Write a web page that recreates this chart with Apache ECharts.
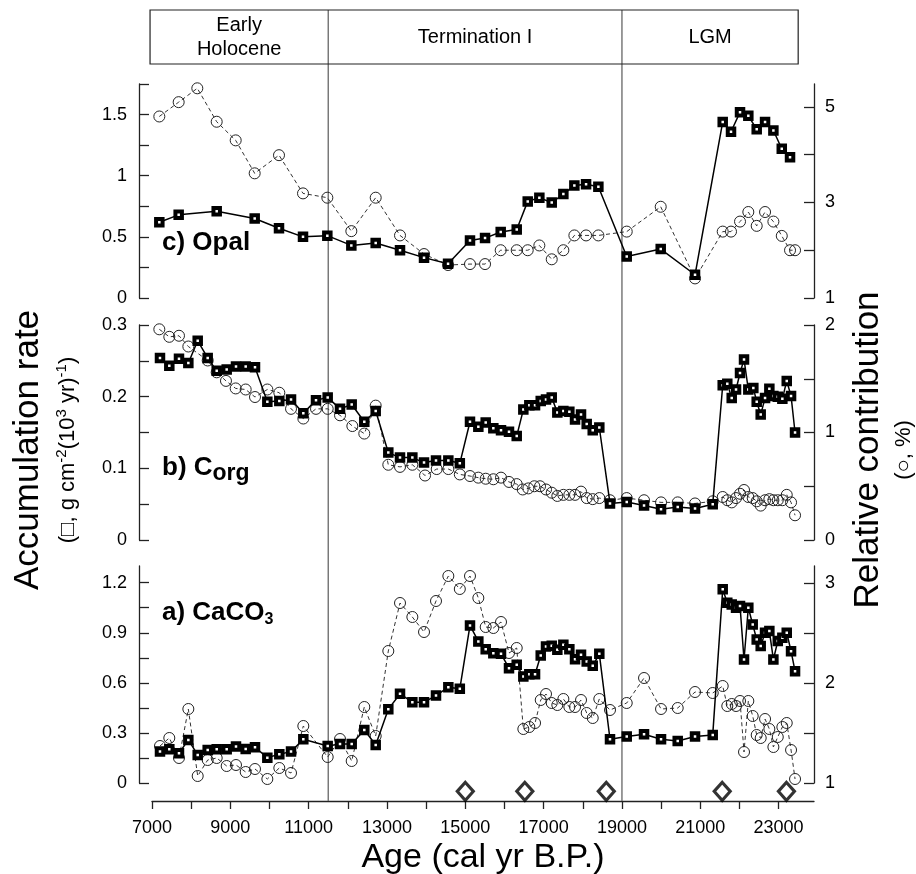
<!DOCTYPE html>
<html>
<head>
<meta charset="utf-8">
<script src="https://cdn.jsdelivr.net/npm/echarts@6/dist/echarts.min.js"></script>
<style>
  html, body { margin: 0; padding: 0; background: #fff; }
  #chart { width: 916px; height: 874px; }
</style>
</head>
<body>
<div id="chart"></div>
<script>
// c) Opal
const opalAgeAR = [7187, 7681, 8652, 9622, 10243, 10856, 11477, 12090, 12712, 13333, 13946, 14560, 15120, 15504, 15904, 16313, 16594, 16891, 17207, 17504, 17785, 18084, 18398, 19122, 19990, 20866, 21573, 21785, 22015, 22227, 22441, 22654, 22867, 23081, 23292];
const opalAR = [0.62, 0.68, 0.71, 0.65, 0.57, 0.50, 0.51, 0.43, 0.45, 0.39, 0.33, 0.28, 0.47, 0.49, 0.54, 0.56, 0.79, 0.82, 0.78, 0.85, 0.92, 0.93, 0.91, 0.34, 0.40, 0.19, 1.44, 1.36, 1.52, 1.49, 1.38, 1.44, 1.37, 1.22, 1.15];
const opalAgePct = [7187, 7681, 8157, 8652, 9137, 9622, 10243, 10856, 11477, 12090, 12712, 13333, 13946, 14560, 15120, 15504, 15904, 16313, 16594, 16891, 17207, 17504, 17785, 18084, 18398, 19122, 19990, 20866, 21573, 21785, 22015, 22227, 22441, 22654, 22867, 23081, 23292, 23420];
const opalPct = [4.80, 5.10, 5.39, 4.69, 4.30, 3.61, 3.99, 3.19, 3.10, 2.40, 3.10, 2.31, 1.92, 1.69, 1.71, 1.71, 2.0, 2.0, 2.0, 2.10, 1.81, 2.0, 2.31, 2.31, 2.31, 2.39, 2.91, 1.41, 2.39, 2.39, 2.60, 2.80, 2.51, 2.80, 2.60, 2.30, 2.0, 2.0];

// b) Corg
const corgAgeAR = [7204, 7442, 7689, 7928, 8167, 8422, 8652, 8907, 9145, 9392, 9630, 9945, 10251, 10550, 10864, 11188, 11486, 11801, 12099, 12421, 12712, 13034, 13333, 13648, 13946, 14252, 14567, 14860, 15120, 15333, 15521, 15716, 15912, 16116, 16313, 16482, 16635, 16781, 16926, 17061, 17207, 17350, 17504, 17657, 17802, 17955, 18100, 18254, 18422, 18695, 19122, 19564, 19998, 20424, 20866, 21318, 21573, 21690, 21803, 21913, 22015, 22117, 22227, 22355, 22441, 22543, 22654, 22764, 22867, 22979, 23096, 23208, 23318, 23420];
const corgAR = [0.254, 0.243, 0.253, 0.247, 0.278, 0.254, 0.236, 0.238, 0.242, 0.242, 0.241, 0.193, 0.194, 0.196, 0.177, 0.195, 0.199, 0.183, 0.189, 0.165, 0.180, 0.122, 0.115, 0.115, 0.108, 0.111, 0.111, 0.107, 0.165, 0.158, 0.164, 0.156, 0.153, 0.151, 0.145, 0.182, 0.188, 0.188, 0.194, 0.196, 0.199, 0.178, 0.180, 0.179, 0.168, 0.175, 0.162, 0.153, 0.157, 0.051, 0.053, 0.048, 0.043, 0.046, 0.044, 0.050, 0.216, 0.218, 0.198, 0.210, 0.233, 0.252, 0.210, 0.212, 0.193, 0.175, 0.198, 0.211, 0.201, 0.200, 0.197, 0.222, 0.201, 0.150];
const corgAgePct = [7187, 7442, 7689, 7928, 8422, 8652, 8889, 9137, 9392, 9630, 9945, 10251, 10550, 10864, 11188, 11486, 11801, 12116, 12421, 12712, 13034, 13333, 13648, 13972, 14270, 14567, 14860, 15120, 15333, 15521, 15716, 15912, 16116, 16313, 16466, 16610, 16763, 16908, 17061, 17207, 17350, 17504, 17657, 17802, 17955, 18100, 18254, 18422, 18695, 19122, 19564, 19998, 20424, 20866, 21318, 21573, 21690, 21803, 21913, 22015, 22117, 22227, 22339, 22441, 22543, 22654, 22764, 22867, 22979, 23096, 23208, 23318, 23420];
const corgPct = [1.96, 1.89, 1.90, 1.80, 1.67, 1.56, 1.48, 1.41, 1.40, 1.33, 1.40, 1.37, 1.22, 1.13, 1.22, 1.22, 1.16, 1.06, 0.99, 1.25, 0.70, 0.68, 0.70, 0.60, 0.66, 0.66, 0.61, 0.595, 0.58, 0.57, 0.565, 0.58, 0.54, 0.52, 0.47, 0.48, 0.50, 0.50, 0.47, 0.44, 0.41, 0.42, 0.42, 0.42, 0.45, 0.39, 0.38, 0.39, 0.37, 0.39, 0.37, 0.35, 0.35, 0.34, 0.36, 0.40, 0.37, 0.35, 0.39, 0.43, 0.465, 0.40, 0.39, 0.36, 0.32, 0.37, 0.38, 0.37, 0.37, 0.37, 0.42, 0.35, 0.23];

// a) CaCO3
const caco3Age = [7204, 7442, 7689, 7928, 8167, 8422, 8652, 8907, 9145, 9392, 9630, 9945, 10251, 10550, 10864, 11486, 11801, 12099, 12421, 12712, 13034, 13333, 13648, 13946, 14252, 14567, 14860, 15120, 15333, 15521, 15716, 15912, 16116, 16313, 16482, 16635, 16781, 16926, 17061, 17207, 17350, 17504, 17657, 17802, 17955, 18100, 18254, 18422, 18695, 19122, 19564, 19998, 20424, 20866, 21318, 21573, 21690, 21803, 21913, 22015, 22117, 22227, 22339, 22441, 22543, 22654, 22764, 22867, 22979, 23096, 23208, 23318, 23420];
const caco3AR = [0.188, 0.202, 0.178, 0.258, 0.168, 0.198, 0.202, 0.202, 0.218, 0.204, 0.214, 0.152, 0.172, 0.188, 0.262, 0.222, 0.234, 0.234, 0.318, 0.228, 0.442, 0.534, 0.484, 0.484, 0.524, 0.574, 0.564, 0.944, 0.848, 0.802, 0.778, 0.774, 0.688, 0.708, 0.638, 0.652, 0.652, 0.764, 0.818, 0.822, 0.798, 0.828, 0.802, 0.742, 0.768, 0.728, 0.702, 0.774, 0.262, 0.278, 0.292, 0.262, 0.252, 0.278, 0.288, 1.16, 1.08, 1.07, 1.05, 1.06, 0.74, 1.05, 0.95, 0.86, 0.82, 0.90, 0.91, 0.74, 0.85, 0.87, 0.90, 0.79, 0.67];
const caco3Pct = [1.37, 1.45, 1.25, 1.74, 1.07, 1.23, 1.25, 1.17, 1.18, 1.11, 1.14, 1.04, 1.15, 1.10, 1.57, 1.26, 1.44, 1.22, 1.76, 1.47, 2.32, 2.80, 2.66, 2.51, 2.82, 3.07, 2.94, 3.07, 2.85, 2.56, 2.55, 2.61, 2.30, 2.35, 1.54, 1.56, 1.60, 1.83, 1.89, 1.80, 1.78, 1.84, 1.76, 1.76, 1.83, 1.70, 1.65, 1.84, 1.73, 1.80, 2.05, 1.74, 1.75, 1.91, 1.90, 1.97, 1.77, 1.79, 1.77, 1.82, 1.31, 1.82, 1.67, 1.48, 1.45, 1.64, 1.54, 1.36, 1.46, 1.56, 1.60, 1.33, 1.04];

// age control points (diamonds)
const datedAges = [15000, 16520, 18600, 21560, 23200];

// periods across the top
const periodNames = ['Early\nHolocene', 'Termination I', 'LGM'];
const periodEdges = [6950, 11500, 19000, 23500];

// axis ticks and labels
const xTicks = [7000, 8000, 9000, 10000, 11000, 12000, 13000, 14000, 15000, 16000, 17000, 18000, 19000, 20000, 21000, 22000, 23000];
const xLabels = [7000, 9000, 11000, 13000, 15000, 17000, 19000, 21000, 23000];
const opalTicks = [0, 0.25, 0.5, 0.75, 1, 1.25, 1.5, 1.75];
const opalLabels = [0, 0.5, 1, 1.5];
const opalPctTicks = [1, 2, 3, 4, 5];
const opalPctLabels = [1, 3, 5];
const corgTicks = [0, 0.05, 0.1, 0.15, 0.2, 0.25, 0.3];
const corgLabels = [0, 0.1, 0.2, 0.3];
const corgPctTicks = [0, 0.5, 1, 1.5, 2];
const corgPctLabels = [0, 1, 2];
const caco3Ticks = [0, 0.15, 0.3, 0.45, 0.6, 0.75, 0.9, 1.05, 1.2];
const caco3Labels = [0, 0.3, 0.6, 0.9, 1.2];
const caco3PctTicks = [1, 1.5, 2, 2.5, 3];
const caco3PctLabels = [1, 2, 3];

const FONT = '"Liberation Sans", Arial, Helvetica, sans-serif';
const X_MIN = 7000, X_MAX = 23904;

function pairs(ages, vals) {
  return ages.map((a, i) => [a, vals[i]]);
}

function panelX(grid) {
  return { type: 'value', gridIndex: grid, min: X_MIN, max: X_MAX, show: false };
}

function panelY(grid, pos, min, max, ticks, labels) {
  return {
    type: 'value', gridIndex: grid, position: pos, min: min, max: max,
    offset: pos === 'left' ? 13 : 0,
    axisLine: { show: true, lineStyle: { color: '#222', width: 1.3 } },
    axisTick: { show: true, inside: true, length: 10, customValues: ticks,
      lineStyle: { color: '#222', width: 1.3 } },
    axisLabel: { customValues: labels, color: '#000', fontSize: 18, fontFamily: FONT,
      margin: pos === 'left' ? 12 : 11, formatter: v => String(v) },
    splitLine: { show: false }
  };
}

function squares(name, x, y, data) {
  return {
    name: name, type: 'line', xAxisIndex: x, yAxisIndex: y, data: data,
    symbol: 'rect', symbolSize: 6.5, showAllSymbol: true, z: 4,
    lineStyle: { color: '#000', width: 1.5 },
    itemStyle: { color: '#fff', borderColor: '#000', borderWidth: 4 }
  };
}

function circles(name, x, y, data) {
  return {
    name: name, type: 'line', xAxisIndex: x, yAxisIndex: y, data: data,
    symbol: 'circle', symbolSize: 11, showAllSymbol: true, z: 3,
    lineStyle: { color: '#333', width: 1, type: [4, 3] },
    itemStyle: { color: 'rgba(255,255,255,0)', borderColor: '#222', borderWidth: 1 }
  };
}

const chart = echarts.init(document.getElementById('chart'), null, { renderer: 'canvas' });

const option = {
  animation: false,
  backgroundColor: '#fff',
  grid: [
    { left: 152, right: 102, top: 84, height: 214, outerBoundsMode: 'none' },
    { left: 152, right: 102, top: 325, height: 215, outerBoundsMode: 'none' },
    { left: 152, right: 102, top: 566, height: 217, outerBoundsMode: 'none' },
    { left: 152, right: 102, top: 800, height: 1, outerBoundsMode: 'none' }
  ],
  xAxis: [
    panelX(0), panelX(1), panelX(2),
    {
      type: 'value', gridIndex: 3, min: X_MIN, max: X_MAX, position: 'bottom',
      axisLine: { show: true, lineStyle: { color: '#222', width: 1.3 } },
      axisTick: { show: true, inside: false, length: 8, customValues: xTicks,
        lineStyle: { color: '#222', width: 1.3 } },
      axisLabel: { customValues: xLabels, color: '#000', fontSize: 18, fontFamily: FONT, margin: 18,
        formatter: v => String(v) },
      splitLine: { show: false },
      name: 'Age (cal yr B.P.)', nameLocation: 'middle', nameGap: 40,
      nameTextStyle: { fontSize: 34, fontFamily: FONT, color: '#000' }
    }
  ],
  yAxis: [
    panelY(0, 'left', 0, 1.75, opalTicks, opalLabels),
    panelY(0, 'right', 1, 5.48, opalPctTicks, opalPctLabels),
    panelY(1, 'left', 0, 0.3, corgTicks, corgLabels),
    panelY(1, 'right', 0, 2, corgPctTicks, corgPctLabels),
    panelY(2, 'left', 0, 1.3, caco3Ticks, caco3Labels),
    panelY(2, 'right', 1, 3.17, caco3PctTicks, caco3PctLabels),
    { type: 'value', gridIndex: 3, show: false }
  ],
  series: [
    circles('Opal %', 0, 1, pairs(opalAgePct, opalPct)),
    squares('Opal AR', 0, 0, pairs(opalAgeAR, opalAR)),
    circles('Corg %', 1, 3, pairs(corgAgePct, corgPct)),
    squares('Corg AR', 1, 2, pairs(corgAgeAR, corgAR)),
    circles('CaCO3 %', 2, 5, pairs(caco3Age, caco3Pct)),
    squares('CaCO3 AR', 2, 4, pairs(caco3Age, caco3AR)),
    {
      name: 'Dated levels', type: 'scatter', xAxisIndex: 2, yAxisIndex: 4, clip: false,
      data: datedAges.map(a => [a, -0.05]),
      symbol: 'diamond', symbolSize: [16, 18], z: 5,
      itemStyle: { color: '#fff', borderColor: '#000', borderWidth: 3.2 }
    }
  ]
};

chart.setOption(option);

// period boxes and boundary lines, placed from the age axis
const px = v => chart.convertToPixel({ xAxisIndex: 3 }, v);
const boxTop = 10, boxBottom = 64, axisY = 801;
const graphics = [];
graphics.push({
  type: 'rect', shape: { x: px(periodEdges[0]), y: boxTop,
    width: px(periodEdges[3]) - px(periodEdges[0]), height: boxBottom - boxTop },
  style: { fill: 'none', stroke: '#222', lineWidth: 1.2 }, z: 10
});
[periodEdges[1], periodEdges[2]].forEach(e => {
  graphics.push({
    type: 'line', shape: { x1: px(e), y1: boxTop, x2: px(e), y2: axisY },
    style: { stroke: '#666', lineWidth: 1.3 }, z: 1
  });
});
periodNames.forEach((n, i) => {
  graphics.push({
    type: 'text', x: (px(periodEdges[i]) + px(periodEdges[i + 1])) / 2, y: (boxTop + boxBottom) / 2,
    style: { text: n, font: '20px ' + FONT, fill: '#000', align: 'center', verticalAlign: 'middle', lineHeight: 24 },
    z: 10
  });
});

// panel names
graphics.push({
  type: 'text', x: 162, y: 243,
  style: { text: 'c) Opal', font: 'bold 26px ' + FONT, fill: '#000', verticalAlign: 'middle' }, z: 10
});
graphics.push({
  type: 'text', x: 162, y: 468,
  style: { text: 'b) C{s|org}', font: 'bold 26px ' + FONT, fill: '#000', verticalAlign: 'middle',
    rich: { s: { fontSize: 23, fontWeight: 'bold', fontFamily: FONT, padding: [12, 0, 0, 0] } } }, z: 10
});
graphics.push({
  type: 'text', x: 162, y: 613,
  style: { text: 'a) CaCO{s|3}', font: 'bold 26px ' + FONT, fill: '#000', verticalAlign: 'middle',
    rich: { s: { fontSize: 16, fontWeight: 'bold', fontFamily: FONT, padding: [14, 0, 0, 0] } } }, z: 10
});

// axis titles
graphics.push({
  type: 'text', x: 28, y: 450, rotation: Math.PI / 2,
  style: { text: 'Accumulation rate', font: '35px ' + FONT, fill: '#000', align: 'center', verticalAlign: 'middle' }
});
graphics.push({
  type: 'text', x: 68, y: 450, rotation: Math.PI / 2,
  style: { text: '(□, g cm{p|-2}(10{p|3} yr){p|-1})', font: '22px ' + FONT, fill: '#000',
    align: 'center', verticalAlign: 'middle',
    rich: { p: { fontSize: 15, fontFamily: FONT, padding: [0, 0, 12, 0] } } }
});
graphics.push({
  type: 'text', x: 868, y: 450, rotation: Math.PI / 2,
  style: { text: 'Relative contribution', font: '35px ' + FONT, fill: '#000', align: 'center', verticalAlign: 'middle' }
});
graphics.push({
  type: 'text', x: 904, y: 450, rotation: Math.PI / 2,
  style: { text: '(○, %)', font: '22px ' + FONT, fill: '#000', align: 'center', verticalAlign: 'middle' }
});

chart.setOption({ graphic: graphics });
</script>
</body>
</html>
